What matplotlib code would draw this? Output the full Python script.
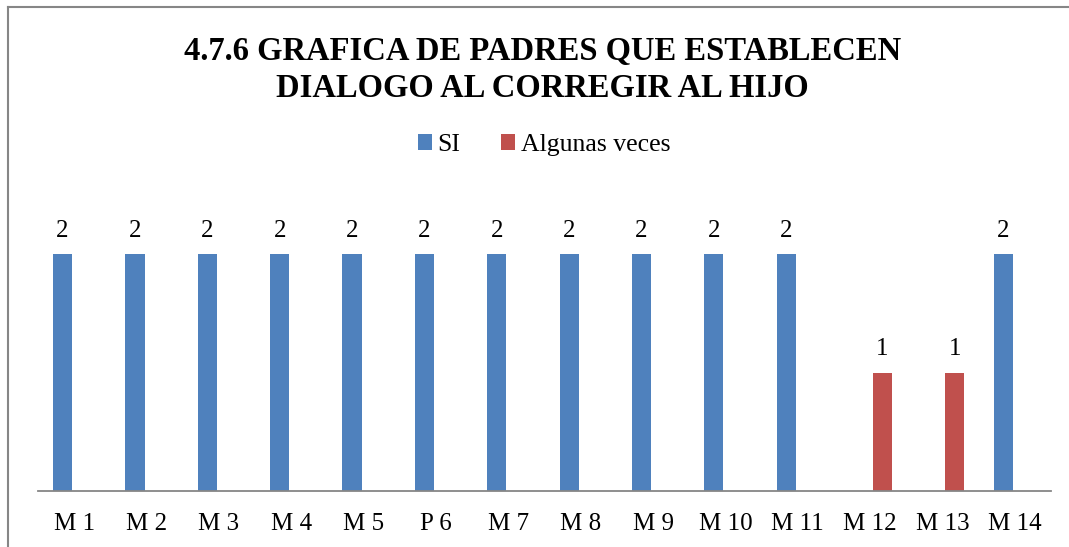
#!/usr/bin/env python3

import numpy as np
from matplotlib import pyplot as plt
from matplotlib.lines import Line2D
from matplotlib.patches import Patch

plt.rcParams['font.family'] = ['Liberation Serif', 'DejaVu Serif']

categorias = ['M 1', 'M 2', 'M 3', 'M 4', 'M 5', 'P 6', 'M 7', 'M 8',
              'M 9', 'M 10', 'M 11', 'M 12', 'M 13', 'M 14']
si = [2, 2, 2, 2, 2, 2, 2, 2, 2, 2, 2, np.nan, np.nan, 2]
algunas_veces = [np.nan] * 11 + [1, 1, np.nan]
series = ['SI', 'Algunas veces']
titulo = '4.7.6 GRAFICA DE PADRES QUE ESTABLECEN\nDIALOGO AL CORREGIR AL HIJO'

AZUL = '#4F81BD'
ROJO = '#C0504D'


def main():
    W, H = 1069, 547
    fig = plt.figure(figsize=(W / 100, H / 100), dpi=100)
    ax = fig.add_axes([38 / W, 56 / H, (1051 - 38) / W, (491 - 195) / H])

    x = np.arange(len(categorias))
    ancho = 0.265
    b1 = ax.bar(x - 0.16, si, ancho, color=AZUL, label=series[0])
    b2 = ax.bar(x + 0.17, algunas_veces, ancho, color=ROJO, label=series[1])
    for b, vals in ((b1, si), (b2, algunas_veces)):
        labs = ['' if np.isnan(v) else '%d' % v for v in vals]
        ax.bar_label(b, labels=labs, padding=9, fontsize=18)

    ax.set_xlim(-0.5, len(categorias) - 0.5)
    ax.set_ylim(0, 2.5)
    ax.set_xticks(x)
    ax.set_xticklabels(categorias, fontsize=18)
    ax.tick_params(axis='x', length=0, pad=16)
    ax.set_yticks([])
    for s in ('top', 'right', 'left'):
        ax.spines[s].set_visible(False)
    ax.spines['bottom'].set_color('#868686')
    ax.spines['bottom'].set_linewidth(1.3)

    fig.text(0.5 * (190 + 895) / W, 1 - 70 / H, titulo, ha='center', va='center',
             fontsize=23.5, fontweight='bold', linespacing=1.22)

    manejadores = [Patch(facecolor=AZUL), Patch(facecolor=ROJO)]
    fig.legend(manejadores, series, loc='center', bbox_to_anchor=(544 / W, 1 - 145 / H),
               ncol=2, frameon=False, fontsize=18.5, handlelength=0.55, handleheight=0.55,
               handletextpad=0.2, columnspacing=1.6)

    # borde del grafico
    fig.add_artist(Line2D([8 / W, 1], [1 - 7 / H, 1 - 7 / H], color='#868686', lw=1.5))
    fig.add_artist(Line2D([8 / W, 8 / W], [0, 1 - 7 / H], color='#868686', lw=1.5))

    fig.savefig('out.png', dpi=100)


if __name__ == '__main__':
    main()
